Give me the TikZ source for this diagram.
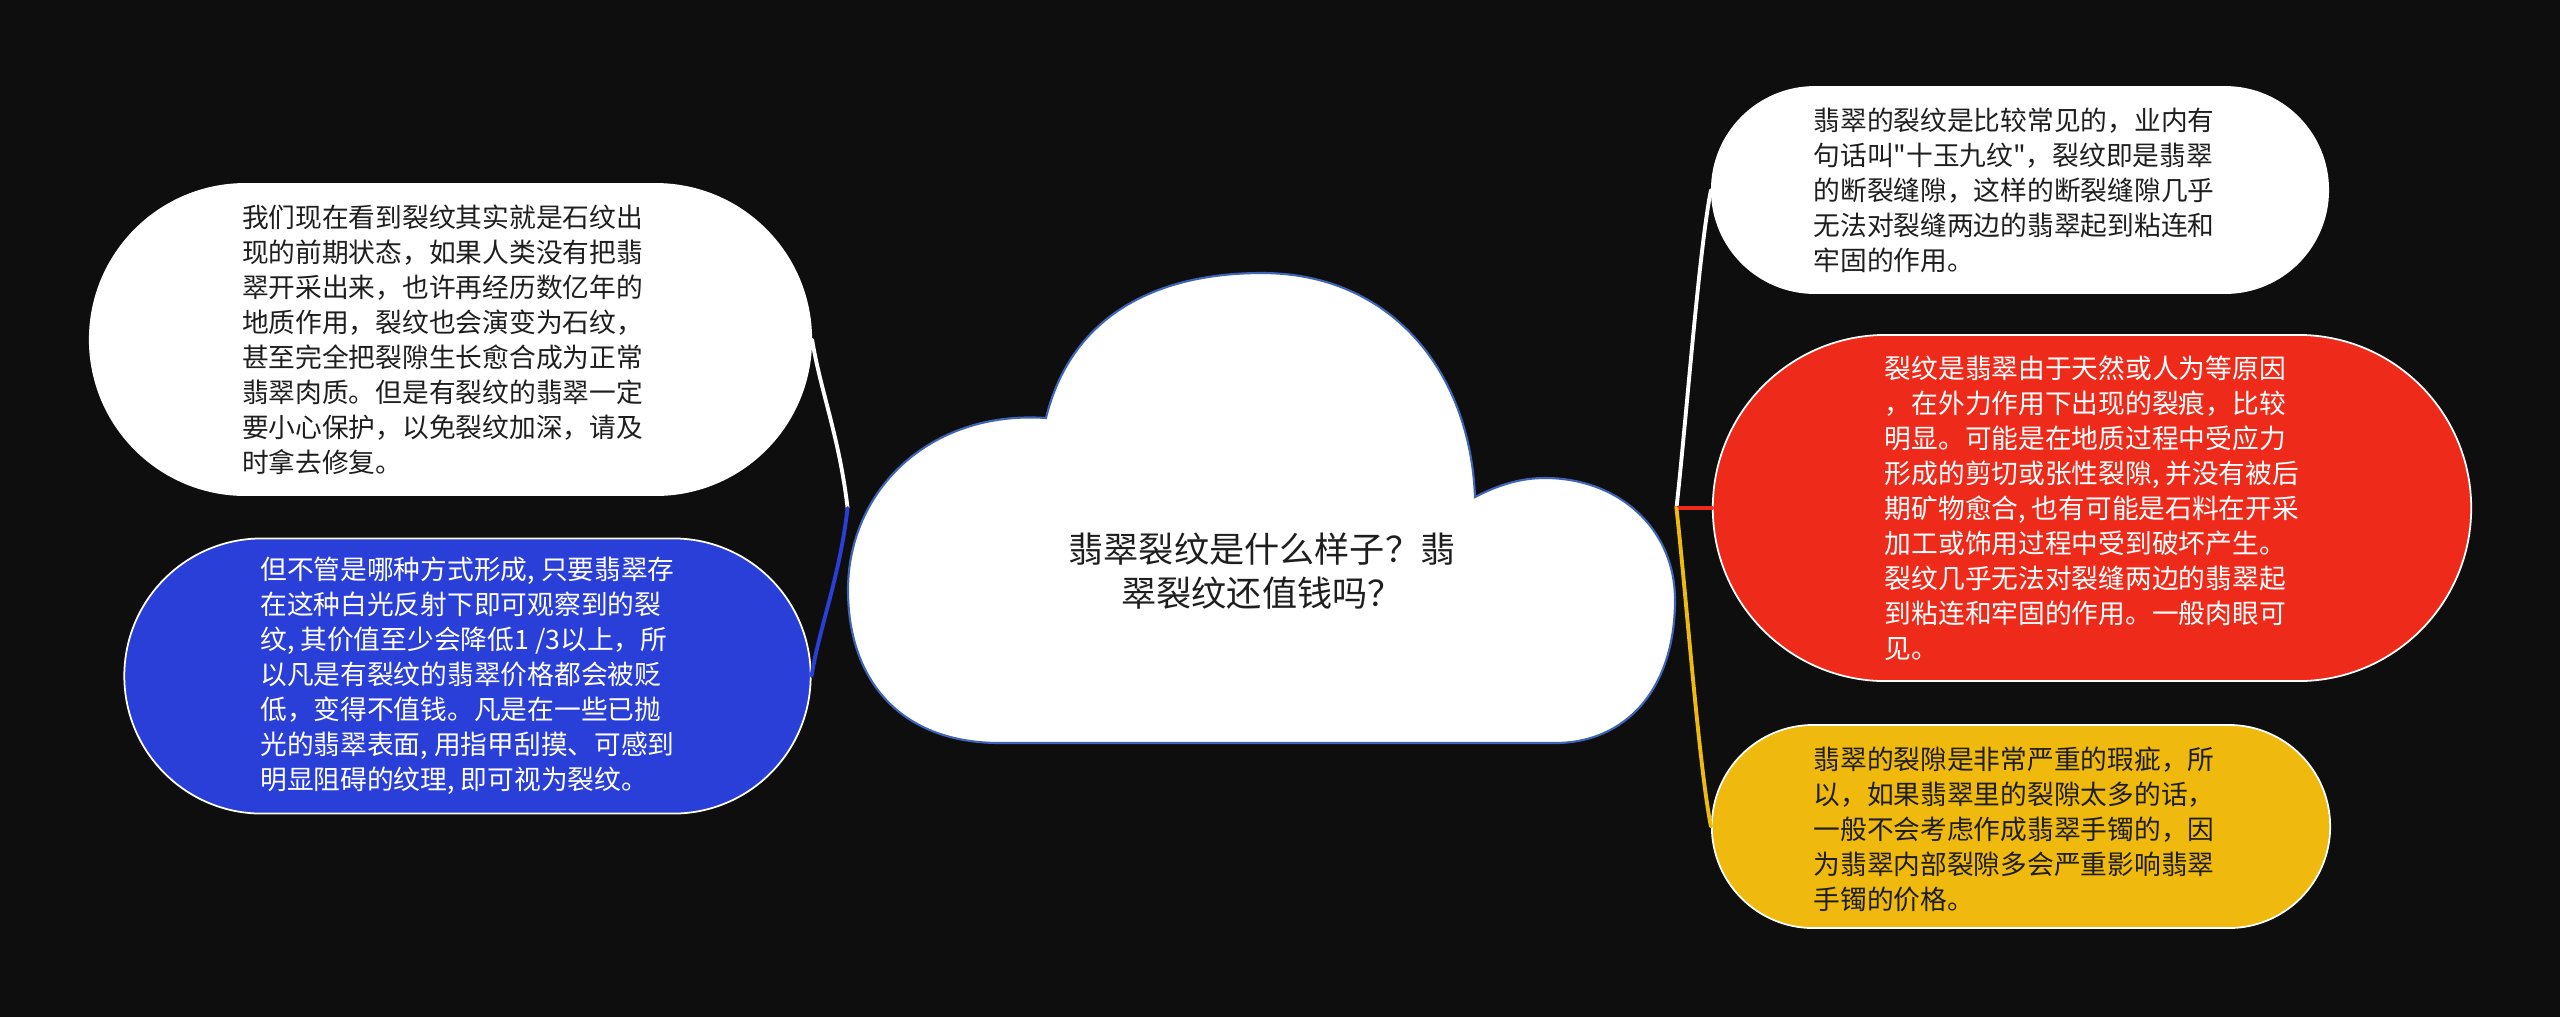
\documentclass[tikz,border=0pt]{standalone}
\usepackage{fontspec}
\usepackage{tikz}
\usetikzlibrary{positioning}
\newfontfamily\cjk{Noto Sans CJK SC}
\definecolor{bgdark}{HTML}{0E0E0E}
\definecolor{jadeblue}{HTML}{2A3FD7}
\definecolor{jadered}{HTML}{EE2B1B}
\definecolor{jadeyellow}{HTML}{EFB90E}
\definecolor{cloudline}{HTML}{3E64B8}
\definecolor{inkdark}{HTML}{1E1E1E}
\tikzset{
  bubble/.style={rectangle, draw=white, line width=0.5pt, inner sep=0pt},
  note/.style={align=left, inner sep=0pt, font={\cjk\fontsize{7.6pt}{9.96pt}\selectfont}},
  branch/.style={line width=1.1pt, line cap=round},
}

\begin{document}
\begin{tikzpicture}[x=0.01cm, y=-0.01cm]
  \newcommand{\capw}{8.27cm}
  \newcommand{\caph}{4.7cm}

  \fill[bgdark] (0,0) rectangle (2560,1017);
  \useasboundingbox (0,0) rectangle (2560,1017);

  % central cloud
  \filldraw[fill=white, draw=cloudline, line width=0.6pt]
  (1000,743) .. controls (900,743) and (848,680) .. (848,590) %%
  .. controls (848,490) and (930,410) .. (1046,418) %%
  .. controls (1070,320) and (1150,273) .. (1262,273) %%
  .. controls (1390,273) and (1470,370) .. (1475,497) %%
  .. controls (1500,484) and (1522,478) .. (1545,478) %%
  .. controls (1618,478) and (1675,528) .. (1675,600) %%
  .. controls (1675,690) and (1625,743) .. (1555,743) -- cycle;
  \node[minimum width=\capw, minimum height=\caph] (root) at (1262,508) {};
  \node[align=center, text=inkdark, font={\cjk\fontsize{10pt}{12.4pt}\selectfont}] %%
  (title) at (1262,571) {翡翠裂纹是什么样子？翡\\翠裂纹还值钱吗？};

  % left side
  \node[bubble, fill=white, rounded corners=1.555cm, minimum width=7.21cm, minimum height=3.11cm] %%
  (stage) at (450.5,339.5) {};
  \node[note, text=inkdark, xshift=-0.08cm] (stagetext) at (stage) {我们现在看到裂纹其实就是石纹出\\现的前期状态，如果人类没有把翡\\翠开采出来，也许再经历数亿年的\\地质作用，裂纹也会演变为石纹，\\甚至完全把裂隙生长愈合成为正常\\翡翠肉质。但是有裂纹的翡翠一定\\要小心保护，以免裂纹加深，请及\\时拿去修复。};

  \node[bubble, fill=jadeblue, rounded corners=1.375cm, minimum width=6.86cm, minimum height=2.75cm] %%
  (value) at (467.5,676) {};
  \node[note, text=white] (valuetext) at (value) {但不管是哪种方式形成, 只要翡翠存\\在这种白光反射下即可观察到的裂\\纹, 其价值至少会降低1 /3以上，所\\以凡是有裂纹的翡翠价格都会被贬\\低，变得不值钱。凡是在一些已抛\\光的翡翠表面, 用指甲刮摸、可感到\\明显阻碍的纹理, 即可视为裂纹。};

  % right side
  \node[bubble, fill=white, rounded corners=1.03cm, minimum width=6.16cm, minimum height=2.06cm] %%
  (common) at (2020,190) {};
  \node[note, text=inkdark, xshift=-0.06cm] (commontext) at (common) {翡翠的裂纹是比较常见的，业内有\\句话叫"十玉九纹"，裂纹即是翡翠\\的断裂缝隙，这样的断裂缝隙几乎\\无法对裂缝两边的翡翠起到粘连和\\牢固的作用。};

  \node[bubble, fill=jadered, rounded corners=1.73cm, minimum width=7.58cm, minimum height=3.46cm] %%
  (cause) at (2092,508) {};
  \node[note, text=white] (causetext) at (cause) {裂纹是翡翠由于天然或人为等原因\\，在外力作用下出现的裂痕，比较\\明显。可能是在地质过程中受应力\\形成的剪切或张性裂隙, 并没有被后\\期矿物愈合, 也有可能是石料在开采\\加工或饰用过程中受到破坏产生。\\裂纹几乎无法对裂缝两边的翡翠起\\到粘连和牢固的作用。一般肉眼可\\见。};

  \node[bubble, fill=jadeyellow, rounded corners=1.015cm, minimum width=6.18cm, minimum height=2.03cm] %%
  (bangle) at (2021,826.5) {};
  \node[note, text=inkdark, xshift=-0.07cm, yshift=-0.03cm] (bangletext) at (bangle) {翡翠的裂隙是非常严重的瑕疵，所\\以，如果翡翠里的裂隙太多的话，\\一般不会考虑作成翡翠手镯的，因\\为翡翠内部裂隙多会严重影响翡翠\\手镯的价格。};

  % branches
  \draw[branch, white] (root.west) .. controls +(-8,-70) and +(8,50) .. (stage.east);
  \draw[branch, jadeblue] (root.west) .. controls +(-8,70) and +(8,-50) .. (value.east);
  \draw[branch, white] (root.east) .. controls +(10,-90) and +(-12,60) .. (common.west);
  \draw[branch, jadered] (root.east) -- (cause.west);
  \draw[branch, jadeyellow] (root.east) .. controls +(10,90) and +(-12,-60) .. (bangle.west);
\end{tikzpicture}
\end{document}
